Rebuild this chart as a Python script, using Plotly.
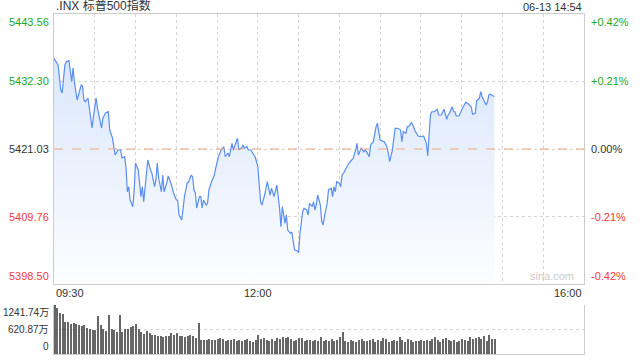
import pandas as pd
import plotly.graph_objects as go
from plotly.subplots import make_subplots

# ---------------- data ----------------
title_text = ".INX 标普500指数"
stamp_text = "06-13 14:54"
prev_close = 5421.03
price_ticks = [5398.50, 5409.76, 5421.03, 5432.30, 5443.56]
price_tick_text = ["5398.50", "5409.76", "5421.03", "5432.30", "5443.56"]
pct_tick_text = ["-0.42%", "-0.21%", "0.00%", "+0.21%", "+0.42%"]
vol_ticks = [0, 620.87, 1241.74]
vol_tick_text = ["0", "620.87万", "1241.74万"]
x_labels = ["09:30", "12:00", "16:00"]

# minutes since 09:30 for each price point
price_minutes = [0, 3, 5, 6, 8, 9, 11, 13, 14, 15, 17, 20, 21, 22, 23, 25, 26, 28, 29, 31, 32, 33, 35, 36, 38,
                 40, 41, 43, 45, 47, 49, 50, 52, 53, 54, 55, 56, 58, 59, 60, 62, 64, 65, 66, 68, 69, 71, 72, 74,
                 75, 76, 77, 79, 80, 81, 83, 84, 86, 88, 90, 91, 92, 94, 96, 98, 99, 101, 102, 103, 104, 105,
                 107, 108, 109, 110, 112, 113, 114, 116, 118, 119, 121, 123, 124, 125, 126, 128, 129, 130, 131,
                 132, 134, 135, 136, 137, 138, 139, 140, 142, 143, 145, 147, 148, 150, 151, 152, 153, 155, 157,
                 158, 159, 160, 162, 164, 166, 167, 168, 170, 171, 172, 174, 175, 176, 177, 179, 180, 181, 183,
                 184, 186, 187, 188, 190, 191, 192, 193, 194, 196, 197, 198, 199, 201, 202, 204, 205, 206, 207,
                 208, 210, 211, 212, 213, 215, 217, 219, 220, 222, 223, 224, 225, 226, 228, 229, 230, 232, 233,
                 235, 237, 238, 239, 240, 243, 245, 246, 247, 249, 251, 253, 255, 256, 257, 259, 260, 261, 263,
                 264, 266, 268, 270, 272, 274, 275, 276, 277, 278, 280, 282, 283, 285, 286, 287, 289, 290, 291,
                 293, 294, 295, 296, 298, 300, 301, 303, 305, 307, 308, 310, 311, 313, 314, 315, 317, 318, 319,
                 320, 321, 322, 323, 324]

prices = [5436.17, 5435.05, 5430.88, 5430.38, 5435.05, 5435.60, 5435.77, 5432.26, 5434.55, 5432.26,
          5429.21, 5431.71, 5431.54, 5429.21, 5428.92, 5429.54, 5427.87, 5424.53, 5426.42, 5429.54,
          5427.87, 5426.70, 5424.53, 5426.20, 5427.04, 5427.25, 5424.20, 5422.87, 5420.03, 5420.86,
          5420.86, 5419.53, 5419.74, 5417.86, 5413.90, 5414.74, 5412.52, 5411.40, 5414.19, 5418.69,
          5417.53, 5413.07, 5414.74, 5412.23, 5417.53, 5419.19, 5417.53, 5417.02, 5414.74, 5415.86,
          5418.69, 5416.19, 5413.90, 5416.69, 5413.90, 5415.36, 5416.52, 5415.36, 5413.69, 5412.52,
          5412.52, 5410.02, 5409.18, 5413.07, 5415.36, 5415.52, 5416.69, 5416.36, 5414.19, 5413.69,
          5411.18, 5413.07, 5413.07, 5411.18, 5412.52, 5411.68, 5412.02, 5414.19, 5415.57, 5416.69,
          5417.86, 5419.74, 5420.86, 5421.20, 5421.41, 5419.74, 5420.36, 5419.74, 5420.86, 5421.98,
          5420.86, 5421.98, 5422.82, 5420.86, 5421.15, 5421.15, 5421.70, 5421.15, 5421.41, 5420.86,
          5420.86, 5420.03, 5419.74, 5418.08, 5414.19, 5412.23, 5411.68, 5413.35, 5415.57, 5414.47,
          5413.35, 5414.47, 5413.07, 5415.02, 5411.13, 5408.06, 5411.40, 5408.63, 5410.02, 5407.51,
          5406.96, 5407.18, 5405.84, 5404.17, 5404.06, 5403.72, 5406.96, 5410.57, 5411.13, 5410.85,
          5410.02, 5411.97, 5411.40, 5412.23, 5410.85, 5411.68, 5413.35, 5411.68, 5408.90, 5408.35,
          5409.73, 5411.97, 5414.19, 5414.47, 5413.07, 5414.74, 5413.90, 5415.57, 5415.30, 5414.74,
          5416.69, 5416.97, 5417.81, 5418.64, 5419.19, 5419.36, 5420.86, 5421.98, 5420.03, 5420.58,
          5421.15, 5420.58, 5420.86, 5420.58, 5419.74, 5421.70, 5422.25, 5424.75, 5425.32, 5423.92,
          5422.53, 5422.25, 5421.41, 5420.31, 5418.91, 5420.86, 5424.48, 5424.48, 5424.20, 5422.25,
          5423.92, 5423.65, 5424.75, 5424.75, 5425.42, 5425.04, 5423.92, 5423.20, 5423.08, 5423.20,
          5421.98, 5419.86, 5423.08, 5426.70, 5427.25, 5427.25, 5427.66, 5426.70, 5426.70, 5427.25,
          5427.66, 5425.99, 5426.70, 5426.99, 5428.09, 5427.25, 5427.25, 5426.54, 5426.54, 5427.54,
          5428.09, 5428.82, 5428.54, 5428.09, 5426.82, 5426.99, 5429.09, 5429.49, 5430.59, 5429.76,
          5428.66, 5428.37, 5428.92, 5430.04, 5430.16, 5430.04, 5429.88, 5429.79]

# volume (万) per 2-minute bar, starting 09:30
volumes = [1242, 1158, 1049, 1015, 822, 800, 760, 790, 760, 730, 720, 740, 650, 640, 620, 600, 965, 730,
           640, 571, 990, 640, 600, 545, 990, 545, 640, 630, 690, 720, 760, 629, 545, 512, 571, 530, 487,
           470, 461, 461, 440, 461, 445, 520, 470, 530, 445, 461, 428, 445, 487, 445, 403, 780, 361, 344,
           344, 370, 360, 361, 378, 403, 378, 330, 361, 344, 378, 319, 344, 319, 361, 378, 319, 294, 361,
           487, 378, 403, 344, 319, 378, 319, 403, 378, 428, 403, 428, 378, 319, 361, 403, 403, 319, 361,
           361, 319, 361, 319,
           420, 330, 360, 330, 380, 340, 360, 420, 553, 320, 300, 360, 340, 300, 360, 380, 320, 340, 360,
           380, 310, 350, 330, 400, 380, 300, 340, 360, 330, 420, 360, 310, 390, 350, 300, 340, 320, 350,
           330, 360, 340, 380, 420, 350, 300, 380, 400, 360, 330, 360, 310, 340, 380, 360, 340, 420, 380,
           400, 440, 380, 460, 330, 487, 380, 390]
vol_step_minutes = 2

# ---------------- build ----------------
open_t = pd.Timestamp("2024-06-13 09:30")
close_t = pd.Timestamp("2024-06-13 16:00")
noon_t = pd.Timestamp("2024-06-13 12:00")
px_times = [open_t + pd.Timedelta(minutes=m) for m in price_minutes]
vol_times = [open_t + pd.Timedelta(minutes=vol_step_minutes * i) for i in range(len(volumes))]

fig = make_subplots(rows=2, cols=1, shared_xaxes=False, vertical_spacing=0)

fig.add_trace(go.Scatter(
    x=px_times, y=prices, mode="lines",
    line=dict(color="#5a8ef0", width=1.2),
    fill="tozeroy",
    fillgradient=dict(type="vertical",
                      colorscale=[[0, "rgba(252,253,255,1)"], [1, "rgba(218,231,251,1)"]],
                      start=5398.5, stop=5436.2),
    hoverinfo="skip", showlegend=False), row=1, col=1)

fig.add_trace(go.Bar(
    x=vol_times, y=volumes, marker=dict(color="#666666", line=dict(width=0)),
    width=64000, offset=0, hoverinfo="skip", showlegend=False), row=2, col=1)

font_fam = "Liberation Sans, Arial, Noto Sans CJK SC, sans-serif"
grid_col = "#d4d4d4"
line_col = "#cccccc"

fig.update_layout(
    width=640, height=360,
    margin=dict(l=54, r=56, t=14, b=6),
    paper_bgcolor="white", plot_bgcolor="white",
    font=dict(family=font_fam, size=11, color="#333333"),
    bargap=0,
    xaxis=dict(domain=[0, 1], anchor="y", type="date", range=[open_t, close_t],
               tick0=open_t, dtick=1800000, showticklabels=False, ticks="",
               showgrid=True, gridcolor=grid_col, griddash="dot", gridwidth=1,
               showline=True, mirror=True, linecolor=line_col, zeroline=False),
    yaxis=dict(domain=[0.2059, 1], anchor="x", range=[5398.50, 5443.56],
               tickvals=price_ticks, showticklabels=False, ticks="",
               showgrid=True, gridcolor=grid_col, griddash="dot",
               showline=True, mirror=True, linecolor=line_col, zeroline=False),
    xaxis2=dict(domain=[0, 1], anchor="y2", type="date", range=[open_t, close_t],
                showticklabels=False, ticks="", showgrid=False,
                showline=True, linecolor=line_col, zeroline=False),
    yaxis2=dict(domain=[0, 0.1441], anchor="x2", range=[0, 1241.74],
                tickvals=vol_ticks, showticklabels=False, ticks="",
                showgrid=True, gridcolor=grid_col, griddash="dot",
                showline=True, mirror=True, linecolor=line_col, zeroline=False),
)

# previous close reference line
fig.add_shape(type="line", xref="x domain", yref="y", x0=0, x1=1, y0=prev_close, y1=prev_close,
              line=dict(color="#f2a57a", width=1, dash="dash"))

green, red, black = "#22a822", "#f23b3b", "#333333"
ann = []
for i, (v, lt, rt) in enumerate(zip(price_ticks, price_tick_text, pct_tick_text)):
    col = red if v < prev_close else (green if v > prev_close else black)
    ya = "bottom" if i == 0 else ("top" if i == len(price_ticks) - 1 else "middle")
    ann.append(dict(x=0, xref="paper", xanchor="right", xshift=-3, y=v, yref="y", yanchor=ya,
                    text=lt, showarrow=False, font=dict(color=col, size=11)))
    ann.append(dict(x=1, xref="paper", xanchor="left", xshift=5, y=v, yref="y", yanchor=ya,
                    text=rt, showarrow=False, font=dict(color=col, size=11)))

for i, (v, t) in enumerate(zip(vol_ticks, vol_tick_text)):
    ya = "bottom" if i == 0 else ("top" if i == len(vol_ticks) - 1 else "middle")
    ann.append(dict(x=0, xref="paper", xanchor="right", xshift=-3, y=v, yref="y2", yanchor=ya,
                    text=t, showarrow=False, font=dict(color=black, size=10)))

# time labels between panels
for t, lab, xa in zip([open_t, noon_t, close_t], x_labels, ["left", "center", "right"]):
    ann.append(dict(x=t, xref="x", xanchor=xa, y=0.2059, yref="paper", yanchor="top", yshift=-1,
                    text=lab, showarrow=False, font=dict(color=black, size=11)))

ann.append(dict(x=0, xref="paper", xanchor="left", y=1, yref="paper", yanchor="bottom", yshift=-1,
                text=title_text, showarrow=False, font=dict(color=black, size=12)))
ann.append(dict(x=1, xref="paper", xanchor="right", y=1, yref="paper", yanchor="bottom", yshift=-1,
                text=stamp_text, showarrow=False, font=dict(color=black, size=11)))
ann.append(dict(x=1, xref="paper", xanchor="right", xshift=-8, y=5398.5, yref="y", yanchor="bottom",
                yshift=0, text="sina.com", showarrow=False, font=dict(color="#cccccc", size=11)))

fig.update_layout(annotations=ann)
fig.write_html("out.html")
